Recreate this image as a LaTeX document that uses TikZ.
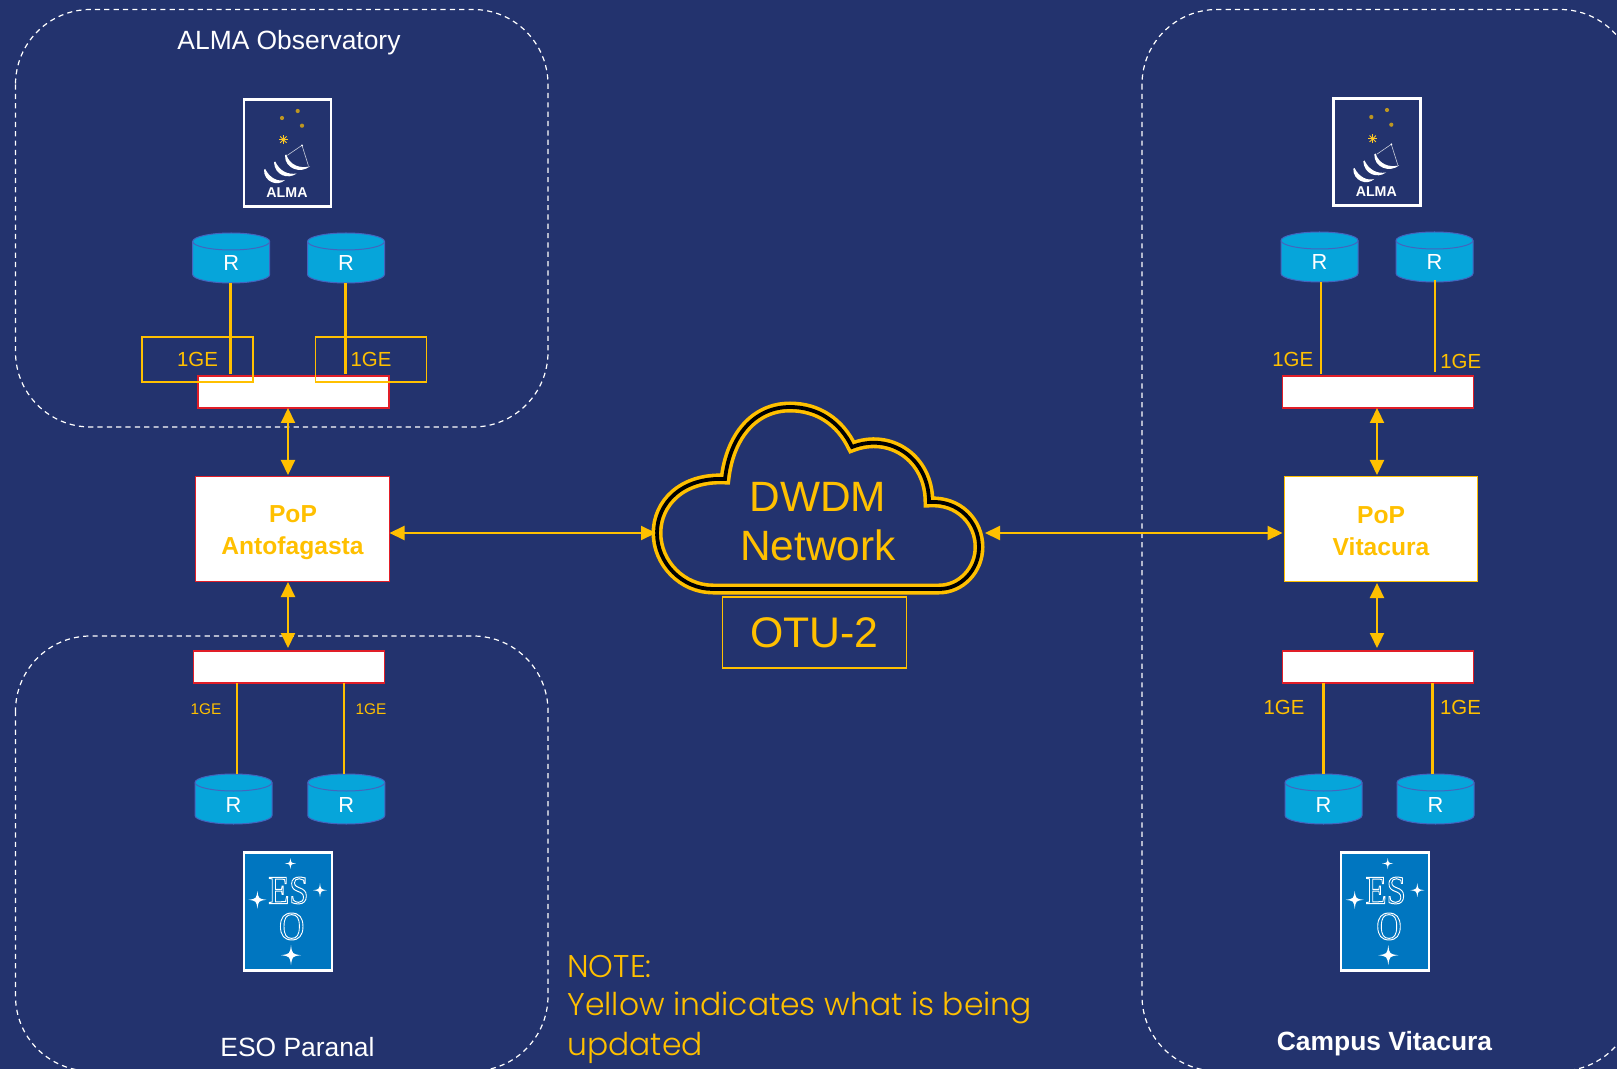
\documentclass[tikz,border=0pt]{standalone}
\usepackage{fontspec}
\setmainfont{Liberation Sans}
\newfontfamily\serifesofont{Liberation Serif}
\newfontfamily\notefont{Poppins Light}
\usetikzlibrary{arrows.meta,calc}
\definecolor{bgblue}{RGB}{35,51,110}
\definecolor{ylw}{RGB}{255,192,0}
\definecolor{barred}{RGB}{225,30,40}
\definecolor{cyl}{RGB}{6,165,218}
\definecolor{cylline}{RGB}{68,100,190}
\definecolor{esoblue}{RGB}{0,118,192}
\newcommand\fsz[1]{\fontsize{#1pt}{#1pt}\selectfont}
\newcommand\hollowtext[1]{\special{pdf:code q 1 Tr 0.5 w 1 1 1 RG}#1\special{pdf:code Q}}
\tikzset{
  x=0.5pt,y=-0.5pt,
  dashbox/.style={draw=white,line width=0.6pt,dash pattern=on 2.6pt off 2.07pt,rounded corners=37.5pt},
  whitebar/.style={draw=barred,fill=white,line width=0.7pt,minimum width=95.5pt,minimum height=16pt,inner sep=0pt,outer sep=0pt},
  popred/.style={draw=barred,fill=white,line width=0.6pt,minimum width=97pt,minimum height=52.5pt,inner sep=0pt,outer sep=0pt},
  popyel/.style={draw=ylw,fill=white,line width=0.6pt,minimum width=96.5pt,minimum height=52.5pt,inner sep=0pt,outer sep=0pt},
  poptext/.style={text=ylw,font=\bfseries\fsz{12.3},align=center,text depth=0pt},
  ybox/.style={draw=ylw,line width=0.95pt,text=ylw,font=\fsz{10.2},inner sep=0pt,outer sep=0pt},
  ylabel/.style={text=ylw,font=\fsz{10.2},inner sep=0pt},
  ysmall/.style={text=ylw,font=\fsz{7.7},inner sep=0pt},
  link/.style={draw=ylw,line width=1.35pt},
  biarrow/.style={draw=ylw,line width=1.05pt,{Triangle[width=7pt,length=7.5pt]}-{Triangle[width=7pt,length=7.5pt]},shorten <=0pt,shorten >=0pt},
  routernode/.style={text=white,font=\fsz{10.9},minimum width=38.5pt,minimum height=25pt,inner sep=0pt,outer sep=0pt,text height=13pt,text depth=0pt},
  sitelabel/.style={text=white,font=\fsz{13.2},inner sep=0pt},
  routerpic/.pic={
    \fill[cyl,draw=cylline,line width=.5pt] (-38.5,-16.5) -- (-38.5,16.5) .. controls (-38.5,21.2) and (-21,25) .. (0,25) .. controls (21,25) and (38.5,21.2) .. (38.5,16.5) -- (38.5,-16.5) .. controls (38.5,-21.2) and (21,-25) .. (0,-25) .. controls (-21,-25) and (-38.5,-21.2) .. (-38.5,-16.5) -- cycle;
    \draw[cylline,line width=.5pt] (-38.5,-16.5) .. controls (-38.5,-11.8) and (-21,-8) .. (0,-8) .. controls (21,-8) and (38.5,-11.8) .. (38.5,-16.5);
  },
  fourstar/.pic={
    \fill[white] (0,-1) .. controls (.12,-.12) .. (1,0) .. controls (.12,.12) .. (0,1) .. controls (-.12,.12) .. (-1,0) .. controls (-.12,-.12) .. (0,-1) -- cycle;
  },
  almalogo/.pic={
    \draw[white,line width=1.15pt] (-43.5,-53.5) rectangle (43.5,53.5);
    \foreach \sx/\sy in {-5.7/-35,10/-42,14.3/-27.3}
      \fill[ylw!70!bgblue] (\sx,\sy) circle [radius=2.1];
    \foreach \a in {0,45,90,135}
      \draw[ylw!85!white,line width=.45pt] ($(-4.3,-13.3)+(\a:4.5)$) -- ($(-4.3,-13.3)+(\a+180:4.5)$);
    \draw[white!75!bgblue,line width=.3pt] (14.3,-7.7) -- (-0.3,2.3);
    \draw[white!75!bgblue,line width=.3pt] (14.3,-7.7) -- (20.7,12.7);
    \fill[white] (14.3,-7.7) circle [radius=1];
    \fill[white] (-2.7,2.3) .. controls (-3,16) and (13,21) .. (22.3,13.3) .. controls (12,16) and (2,12) .. (-1.5,1.5) -- cycle;
    \fill[white] (-13.7,9.3) .. controls (-13,22) and (0,27) .. (9,20.5) .. controls (0,22) and (-8,18) .. (-12.5,8.5) -- cycle;
    \fill[white] (-23.7,16.7) .. controls (-24,29) and (-10,34) .. (-2.7,27) .. controls (-10,29) and (-18,25) .. (-22.5,16) -- cycle;
    \node[text=white,font=\bfseries\fsz{7.1},inner sep=0pt] (-word) at (-0.7,40) {ALMA};
  },
  esologo/.pic={
    \draw[white,line width=1.15pt,fill=esoblue] (-44,-59) rectangle (44,59);
    \pic at (2.7,-48) {esostarA};
    \pic at (-30.3,-11.7) {esostarC};
    \pic at (32.3,-21.3) {esostarB};
    \pic at (3.3,43.7) {esostarD};
    \node[text=white,inner sep=0pt,xscale=.86,font=\serifesofont\fsz{20}] (-es) at (0.7,-21) {\hollowtext{ES}};
    \node[text=white,inner sep=0pt,xscale=.88,font=\serifesofont\fsz{20}] (-o) at (4,15) {\hollowtext{O}};
  },
  esostarA/.pic={\pic[xscale=5.5,yscale=5.5] {fourstar};},
  esostarB/.pic={\pic[xscale=7,yscale=7] {fourstar};},
  esostarC/.pic={\pic[xscale=9,yscale=9] {fourstar};},
  esostarD/.pic={\pic[xscale=10,yscale=10] {fourstar};},
}
\newcommand\router[3]{\pic at (#2,#3) {routerpic}; \node[routernode] (#1) at (#2,#3) {R};}
\begin{document}
\begin{tikzpicture}
\useasboundingbox (0,0) rectangle (1617,1069);
\fill[bgblue] (0,0) rectangle (1617,1069);
\clip (0,0) rectangle (1617,1069);

% site frames
\draw[dashbox] (15.5,9.5) rectangle (548,427);
\draw[dashbox] (15.5,636) rectangle (548,1071);
\draw[dashbox] (1142,9.5) rectangle (1635,1071);

% site labels
\node[sitelabel] (lalma) at (289,43) {ALMA Observatory};
\node[sitelabel] (lparanal) at (297.5,1047) {ESO Paranal};
\node[sitelabel,font=\bfseries\fsz{13.2}] (lcampus) at (1384.5,1044) {Campus Vitacura};

% logos
\pic (alma1) at (287.7,153) {almalogo};
\pic (alma2) at (1377,152) {almalogo};
\pic (eso1) at (287.7,911.5) {esologo};
\pic (eso2) at (1385,911.5) {esologo};

% routers
\router{r1}{231.2}{258}
\router{r2}{346}{258}
\router{r3}{1319.5}{257}
\router{r4}{1434.5}{257}
\router{r5}{233.5}{799}
\router{r6}{346.3}{799}
\router{r7}{1323.5}{799}
\router{r8}{1435.5}{799}

% switches
\node[whitebar] (s1) at (293.5,392) {};
\node[whitebar] (s2) at (289,667) {};
\node[whitebar] (s3) at (1378,392) {};
\node[whitebar] (s4) at (1378,667) {};

% 1GE
\node[ybox,minimum width=55.5pt,minimum height=22.5pt] (ge1) at (197.5,359.5) {\raisebox{-.5pt}{1GE}};
\node[ybox,minimum width=55.5pt,minimum height=22.5pt] (ge2) at (371,359.5) {\raisebox{-.5pt}{1GE}};
\node[ylabel] (ge3) at (1292.7,359) {1GE};
\node[ylabel] (ge4) at (1460.7,361) {1GE};
\node[ysmall] (ge5) at (206,709) {1GE};
\node[ysmall] (ge6) at (371,709) {1GE};
\node[ylabel] (ge7) at (1284,707) {1GE};
\node[ylabel] (ge8) at (1460.5,707) {1GE};

% router links
\draw[link] ([xshift=-.25pt]r1.south) -- ([xshift=-.25pt,yshift=1pt]r1.south |- s1.north);
\draw[link] ([xshift=-.25pt]r2.south) -- ([xshift=-.25pt,yshift=1pt]r2.south |- s1.north);
\draw[link] ([xshift=.75pt]r3.south) -- ([xshift=.75pt,yshift=1pt]r3.south |- s3.north);
\draw[link] ([xshift=.25pt,yshift=1pt]r4.south) -- ([xshift=.25pt,yshift=2pt]r4.south |- s3.north);
\draw[link] ([xshift=1.75pt]s2.south -| r5.north) -- ([xshift=1.75pt]r5.north);
\draw[link] ([xshift=-1.1pt]s2.south -| r6.north) -- ([xshift=-1.1pt]r6.north);
\draw[link] (s4.south -| r7.north) -- (r7.north);
\draw[link] ([xshift=-1.5pt]s4.south -| r8.north) -- ([xshift=-1.5pt]r8.north);

% PoPs
\node[popred] (pop1) at (292.5,529) {};
\node[popyel] (pop2) at (1381,529) {};
\node[poptext] (pop1a) at (293,514) {PoP};
\node[poptext] (pop1b) at (292.5,546) {Antofagasta};
\node[poptext] (pop2a) at (1381,515) {PoP};
\node[poptext] (pop2b) at (1381,547) {Vitacura};

% cloud
\draw[ylw,line width=1.8pt,double=black,double distance=1.9pt,miter limit=8]
  (725,479) .. controls (730,435) and (755,407) .. (790,407)
  .. controls (818,407) and (840,422) .. (852,447)
  .. controls (890,432) and (929,458) .. (929,502)
  .. controls (959,500) and (979,522) .. (979,547)
  .. controls (979,570) and (961,589) .. (939,589)
  -- (713,589) .. controls (682,589) and (657,563) .. (657,533)
  .. controls (657,503) and (682,477) .. (725,479) -- cycle;
\node[minimum width=164.5pt,minimum height=10pt,inner sep=0pt,outer sep=0pt] (cloud) at (820.5,533) {};
\node[text=ylw,font=\fsz{21.2},align=center,inner sep=0pt] (cloudtext) at (818,522) {DWDM\\[3.2pt]Network};
\node[draw=ylw,line width=.95pt,text=ylw,font=\fsz{21.4},minimum width=92pt,minimum height=35.5pt,inner sep=0pt,outer sep=0pt] (otu) at (814.5,632.5) {\raisebox{-1pt}{OTU-2}};

% arrows
\draw[biarrow] (s1.south -| 288,0) -- (288,475);
\draw[biarrow] (288,582) -- (288,648);
\draw[biarrow] (s3.south -| 1377,0) -- (1377,475);
\draw[biarrow] (1377,583) -- (1377,648);
\draw[biarrow] ([yshift=-2pt]pop1.east) -- (cloud.west);
\draw[biarrow] (cloud.east) -- ([yshift=-2pt,xshift=-1pt]pop2.west);

% note
\node[text=ylw,font=\notefont\fsz{15.7},align=left,anchor=north west,inner sep=0pt] (note) at (567,955)
  {NOTE:\\[3.1pt]Yellow indicates what is being\\[3.1pt]updated};
\end{tikzpicture}
\end{document}
